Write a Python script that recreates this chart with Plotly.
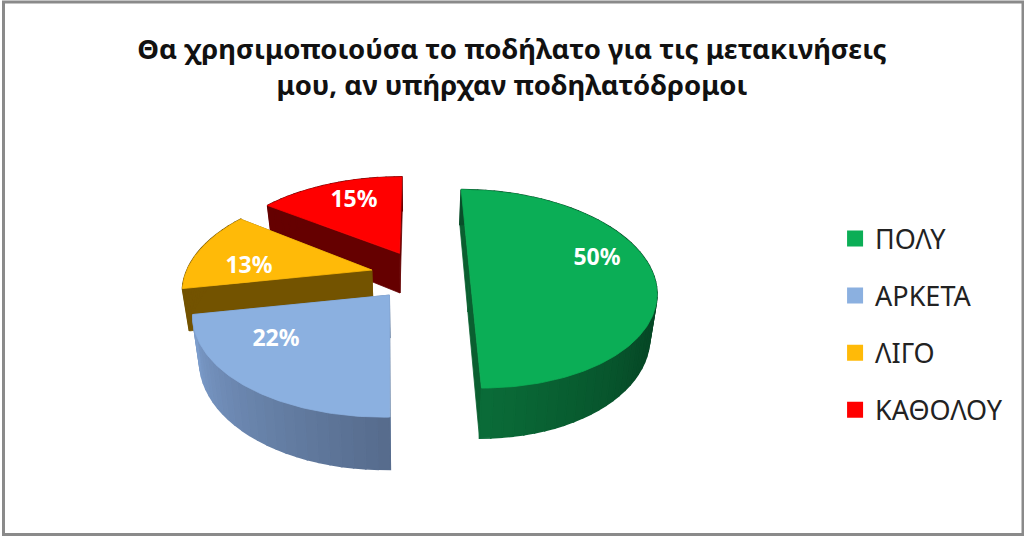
import math
import plotly.graph_objects as go

# ---- data ----
categories = ["ΠΟΛΥ", "ΑΡΚΕΤΑ", "ΛΙΓΟ", "ΚΑΘΟΛΟΥ"]
values = [50, 22, 13, 15]
title_text = "Θα χρησιμοποιούσα το ποδήλατο για τις μετακινήσεις<br>μου, αν υπήρχαν ποδηλατόδρομοι"

# ---- style ----
top_colors = ["#0BAE56", "#8BB0E0", "#FFBA08", "#FF0000"]
cut_colors = ["#0A5F30", "#5F7BA0", "#735300", "#650000"]
# colours of the outer wall, from the slice's first angle to its last
wall_colors = [
    [(10, 78, 42), (4, 68, 36), (6, 72, 38), (10, 108, 56)],
    [(86, 107, 140), (125, 158, 205)],
    [(115, 83, 0), (115, 83, 0)],
    [(101, 0, 0), (101, 0, 0)],
]
explode = [(0.29, 0.0), (-0.13, -0.24), (-0.23, 0.01), (-0.085, 0.19)]
disc_scale = [(0.97, 1.0), (0.98, 0.955), (0.985, 1.0), (1.0, 1.0)]
angle_nudge = [0.0, -1.4, 0.0, 0.0]
label_pos = [(597, 259), (276, 340), (249, 267), (354, 201)]
CX, CY, R, SY, K, H, SHRINK = 415, 271, 188, 96, 0.18, 41, 0.03
FONT = "Noto Sans"


def project(X, Y, z=0.0):
    w = 1 + K * Y
    return CX + R * X / w * (1 - SHRINK * z), CY - SY * Y / w + z * H / w


def point(i, ang, z=0.0, radius=1.0):
    dx, dy = explode[i]
    sx, sy = disc_scale[i]
    a = math.radians(ang)
    return project(dx + radius * sx * math.sin(a), dy + radius * sy * math.cos(a), z)


def poly(pts, color, width=0.8):
    xs = [p[0] for p in pts] + [pts[0][0]]
    ys = [p[1] for p in pts] + [pts[0][1]]
    return go.Scatter(x=xs, y=ys, mode="lines", fill="toself", fillcolor=color,
                      line=dict(color=color, width=width), hoverinfo="skip", showlegend=False)


def lerp_color(stops, t):
    t = t * (len(stops) - 1)
    j = min(int(t), len(stops) - 2)
    f = t - j
    c = [round(stops[j][n] + (stops[j + 1][n] - stops[j][n]) * f) for n in range(3)]
    return f"rgb({c[0]},{c[1]},{c[2]})"


total = sum(values)
spans = []
acc = 0.0
for i, v in enumerate(values):
    end = acc + v / total * 360
    spans.append((acc + angle_nudge[i], end))
    acc = end

traces = []
for i in [3, 2, 1, 0]:
    a0, a1 = spans[i]
    # cut faces
    traces.append(poly([point(i, a1, 0, 0), point(i, a1, 0), point(i, a1, 1), point(i, a1, 1, 0)], cut_colors[i]))
    traces.append(poly([point(i, a0, 0, 0), point(i, a0, 0), point(i, a0, 1), point(i, a0, 1, 0)], cut_colors[i]))
    # outer wall as gradient strips
    n = max(8, int((a1 - a0) / 3))
    for s in range(n):
        b0 = a0 + (a1 - a0) * s / n
        b1 = a0 + (a1 - a0) * (s + 1) / n
        traces.append(poly([point(i, b0, 0), point(i, b1, 0), point(i, b1, 1), point(i, b0, 1)],
                           lerp_color(wall_colors[i], (s + 0.5) / n), width=1.6))
    # top face
    m = max(12, int(a1 - a0))
    arc = [point(i, a0 + (a1 - a0) * s / m) for s in range(m + 1)]
    traces.append(poly([point(i, a0, 0, 0)] + arc, top_colors[i]))

# percentage labels
traces.append(go.Scatter(
    x=[p[0] for p in label_pos], y=[p[1] for p in label_pos], mode="text",
    text=[f"{v}%" for v in values], hoverinfo="skip", showlegend=False,
    textfont=dict(family=FONT, size=23, color="white", weight="bold"),
))
# legend entries
for name, col in zip(categories, top_colors):
    traces.append(go.Scatter(x=[None], y=[None], mode="markers", name=name, legendgroup=name,
                             marker=dict(symbol="square", size=16, color=col)))

fig = go.Figure(traces)
fig.update_layout(
    width=1024, height=536, margin=dict(l=0, r=0, t=0, b=0),
    paper_bgcolor="white", plot_bgcolor="white",
    title=dict(text=title_text, x=0.5, xanchor="center", y=0.889, yanchor="top",
               font=dict(family=FONT, size=27.5, color="#111111", weight="bold")),
    xaxis=dict(range=[0, 1024], visible=False, fixedrange=True),
    yaxis=dict(range=[536, 0], visible=False, fixedrange=True),
    legend=dict(x=0.8155, y=0.60, xanchor="left", yanchor="top", tracegroupgap=19,
                font=dict(family=FONT, size=27, color="#222222"),
                bgcolor="rgba(0,0,0,0)", itemclick=False, itemdoubleclick=False),
    shapes=[dict(type="rect", xref="x", yref="y", x0=3.5, y0=2, x1=1023, y1=534.5,
                 line=dict(color="#8A8A8A", width=3), fillcolor="rgba(0,0,0,0)", layer="above")],
)
fig.write_html("out.html", config=dict(displayModeBar=False),
               post_script="document.body.style.margin='0';document.body.style.overflow='hidden';")
